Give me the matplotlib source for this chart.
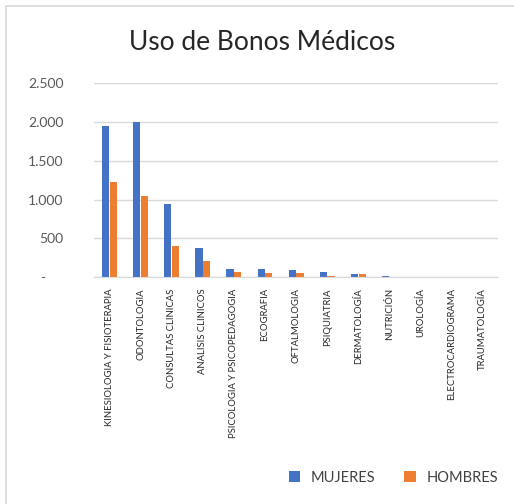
import matplotlib.pyplot as plt
import matplotlib.lines as mlines
import numpy as np

plt.rcParams['font.family'] = ['Lato', 'DejaVu Sans']

# data
categorias = ["KINESIOLOGIA Y FISIOTERAPIA", "ODONTOLOGIA", "CONSULTAS CLINICAS",
              "ANALISIS CLINICOS", "PSICOLOGIA Y PSICOPEDAGOGIA", "ECOGRAFIA",
              "OFTALMOLOGIA", "PSIQUIATRIA", "DERMATOLOGÍA", "NUTRICIÓN",
              "UROLOGÍA", "ELECTROCARDIOGRAMA", "TRAUMATOLOGÍA"]
mujeres = [1947, 1998, 946, 379, 108, 105, 90, 65, 45, 15, 2, 1, 1]
hombres = [1221, 1040, 400, 215, 73, 50, 55, 15, 40, 3, 1, 0, 0]
yticks = [0, 500, 1000, 1500, 2000, 2500]
ytick_labels = ["-", "500", "1.000", "1.500", "2.000", "2.500"]

azul = "#4472c4"
naranja = "#ed7d31"

fig = plt.figure(figsize=(5.14, 5.04), dpi=100)
ax = fig.add_axes([0.183, 0.450, 0.786, 0.385])

x = np.arange(len(categorias))
w = 0.23
ax.bar(x - 0.125, mujeres, w, color=azul, label="MUJERES")
ax.bar(x + 0.125, hombres, w, color=naranja, label="HOMBRES")

ax.set_xlim(-0.5, len(categorias) - 0.5)
ax.set_ylim(0, 2500)
ax.set_yticks(yticks)
ax.set_yticklabels(ytick_labels, fontsize=10, color="#595959")
ax.get_yticklabels()[0].set_x(-0.045)
ax.set_xticks(x)
ax.set_xticklabels(categorias, rotation=90, fontsize=6.8, color="#262626")
ax.tick_params(axis="y", length=0, pad=22)
ax.tick_params(axis="x", length=0, pad=8)
ax.grid(axis="y", color="#d9d9d9", linewidth=1)
ax.set_axisbelow(True)
for s in ["top", "right", "left"]:
    ax.spines[s].set_visible(False)
ax.spines["bottom"].set_color("#d9d9d9")

fig.text(0.51, 0.915, "Uso de Bonos Médicos", ha="center", va="center",
         fontsize=19, color="#262626")

fig.legend(loc="center", bbox_to_anchor=(0.765, 0.052), ncol=2, frameon=False,
           fontsize=10.5, handlelength=0.8, handleheight=0.8, columnspacing=2.0,
           handletextpad=0.7, labelcolor="#404040")

# chart area border (only top and left edges visible in the crop)
fig.lines.append(mlines.Line2D([0.011, 0.011, 1.0], [0.0, 0.988, 0.988],
                               transform=fig.transFigure, color="#d9d9d9",
                               linewidth=1.2))

fig.savefig("out.png", dpi=100)
